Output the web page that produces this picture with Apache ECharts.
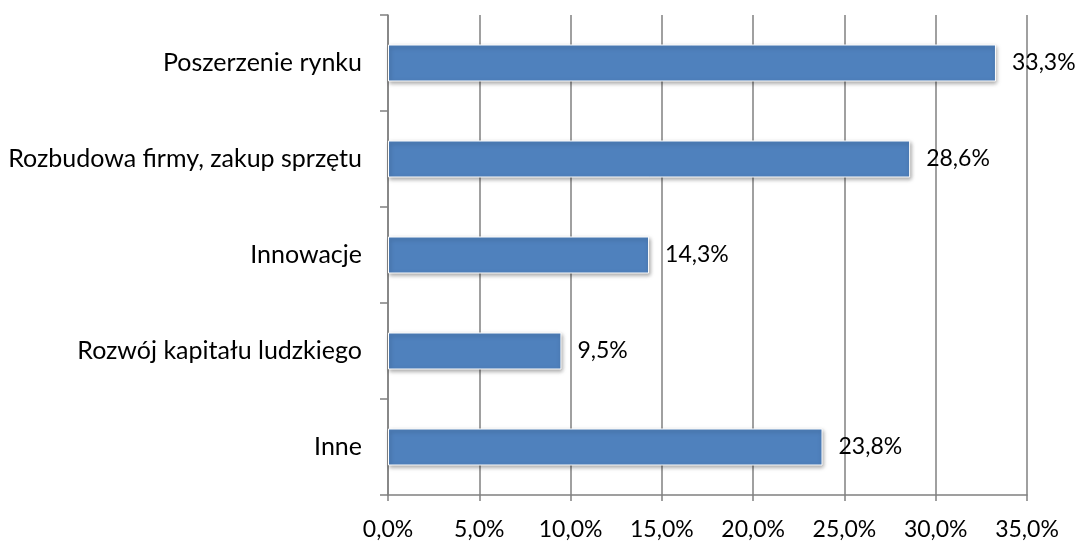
<!DOCTYPE html>
<html><head><meta charset="utf-8">
<script src="https://cdn.jsdelivr.net/npm/echarts@6/dist/echarts.min.js"></script>
<style>html,body{margin:0;padding:0;background:#fff}#c{width:1079px;height:542px}</style>
</head><body><div id="c"></div>
<script>
const categories = ["Poszerzenie rynku", "Rozbudowa firmy, zakup sprzętu", "Innowacje", "Rozwój kapitału ludzkiego", "Inne"];
const values = [33.3, 28.6, 14.3, 9.5, 23.8];
const fmt = v => v.toFixed(1).replace('.', ',') + '%';
const font = 'Lato';
const chart = echarts.init(document.getElementById('c'));
chart.setOption({
  animation: false,
  grid: {left: 388, top: 15, right: 52, bottom: 47, containLabel: false},
  xAxis: {
    type: 'value', min: 0, max: 35, interval: 5,
    axisLine: {show: true, lineStyle: {color: '#808080', width: 1.5}},
    axisTick: {show: true, length: 6, lineStyle: {color: '#808080', width: 1.5}},
    splitLine: {show: true, lineStyle: {color: '#808080', width: 1.5}},
    axisLabel: {formatter: fmt, color: '#000', fontSize: 23, fontFamily: font, margin: 23}
  },
  yAxis: {
    type: 'category', data: categories, inverse: true,
    axisLine: {show: true, lineStyle: {color: '#808080', width: 1.5}},
    axisTick: {show: true, length: 8, lineStyle: {color: '#808080', width: 1.5}},
    axisLabel: {color: '#000', fontSize: 25, fontFamily: font, margin: 26}
  },
  series: [{
    type: 'bar', data: values, barWidth: 37,
    itemStyle: {color: '#4F81BD', borderColor: '#fff', borderWidth: 1,
      shadowColor: 'rgba(0,0,0,0.35)', shadowBlur: 4, shadowOffsetY: 2, shadowOffsetX: 1},
    label: {show: true, position: 'right', distance: 16, formatter: p => fmt(p.value),
      color: '#000', fontSize: 23, fontFamily: font}
  }]
});
</script></body></html>
